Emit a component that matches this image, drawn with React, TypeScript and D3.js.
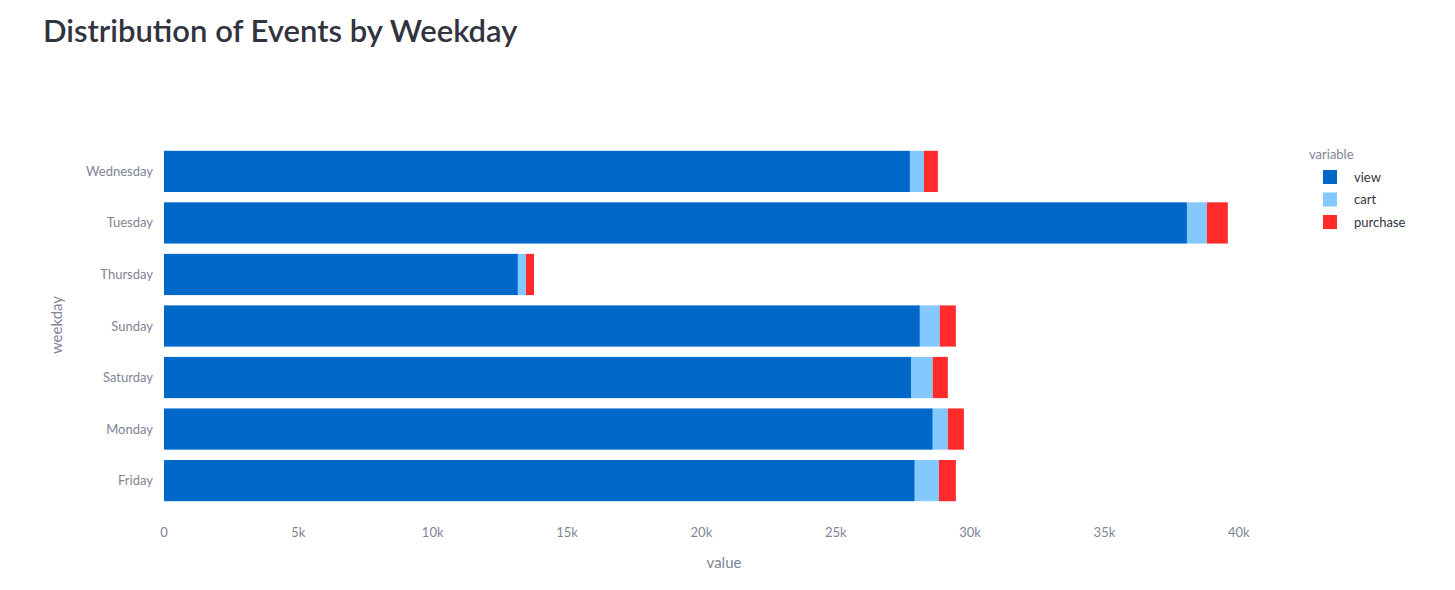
import { useEffect, useRef } from 'react';
import * as d3 from 'd3';

const weekdays = ['Wednesday', 'Tuesday', 'Thursday', 'Sunday', 'Saturday', 'Monday', 'Friday'];
const views = [27760, 38070, 13170, 28130, 27800, 28610, 27940];
const carts = [520, 740, 300, 740, 810, 560, 900];
const purchases = [520, 780, 300, 600, 560, 600, 630];
const seriesNames = ['view', 'cart', 'purchase'];
const seriesColors = ['#0068c9', '#83c9ff', '#ff2b2b'];
const xTicks = [0, 5000, 10000, 15000, 20000, 25000, 30000, 35000, 40000];

const W = 1455;
const H = 590;
const FONT = 'Lato, "Open Sans", sans-serif';

export default function App() {
  const svgRef = useRef<SVGSVGElement>(null);

  useEffect(() => {
    document.body.style.margin = '0';
    const svg = d3.select(svgRef.current);
    svg.selectAll('*').remove();

    const x = d3.scaleLinear().domain([0, 41570]).range([164, 1281]);
    const y = d3.scaleBand().domain(weekdays).range([140.5, 511.5]).padding(0.2);

    svg.append('text').attr('x', 43).attr('y', 42)
      .attr('font-size', 31).attr('font-weight', 600).attr('fill', '#31333f')
      .attr('font-family', FONT).text('Distribution of Events by Weekday');

    const rows = weekdays.map((d, i) => ({ day: d, view: views[i], cart: carts[i], purchase: purchases[i] }));
    const stacked = d3.stack<any>().keys(seriesNames)(rows);

    stacked.forEach((layer, k) => {
      svg.append('g').selectAll('rect').data(layer).enter().append('rect')
        .attr('x', d => x(d[0]))
        .attr('width', d => x(d[1]) - x(d[0]))
        .attr('y', d => y(d.data.day)!)
        .attr('height', y.bandwidth())
        .attr('fill', seriesColors[k]);
    });

    // x ticks
    xTicks.forEach(t => {
      svg.append('text').attr('x', x(t)).attr('y', 537)
        .attr('text-anchor', 'middle').attr('font-size', 13).attr('fill', '#808495')
        .attr('font-family', FONT).text(t === 0 ? '0' : `${t / 1000}k`);
    });
    // y ticks
    weekdays.forEach(d => {
      svg.append('text').attr('x', 153).attr('y', y(d)! + y.bandwidth() / 2 + 4.5)
        .attr('text-anchor', 'end').attr('font-size', 13).attr('fill', '#808495')
        .attr('font-family', FONT).text(d);
    });

    svg.append('text').attr('x', 724).attr('y', 568)
      .attr('text-anchor', 'middle').attr('font-size', 15).attr('fill', '#808495')
      .attr('font-family', FONT).text('value');
    svg.append('text').attr('transform', 'translate(62,325) rotate(-90)')
      .attr('text-anchor', 'middle').attr('font-size', 15).attr('fill', '#808495')
      .attr('font-family', FONT).text('weekday');

    // legend
    svg.append('text').attr('x', 1309).attr('y', 159)
      .attr('font-size', 13).attr('fill', '#808495').attr('font-family', FONT).text('variable');
    seriesNames.forEach((s, i) => {
      const cy = 177 + i * 22.5;
      svg.append('rect').attr('x', 1323).attr('y', cy - 7).attr('width', 14).attr('height', 14)
        .attr('fill', seriesColors[i]);
      svg.append('text').attr('x', 1354).attr('y', cy + 4.5)
        .attr('font-size', 13).attr('fill', '#31333f').attr('font-family', FONT).text(s);
    });
  }, []);

  return <svg ref={svgRef} width={W} height={H} style={{ display: 'block', background: '#fff' }} />;
}
